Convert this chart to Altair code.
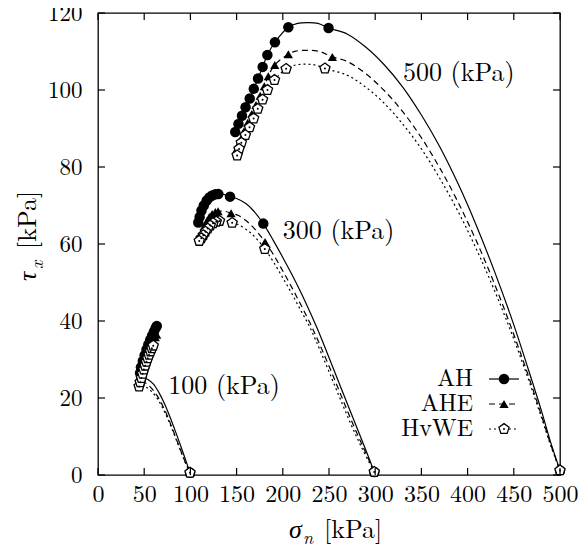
import altair as alt
import pandas as pd

FONT = "Latin Modern Roman"
W, H = 462, 462

# ---------------- data ----------------
x_ticks = [0, 50, 100, 150, 200, 250, 300, 350, 400, 450, 500]
y_ticks = [0, 20, 40, 60, 80, 100, 120]

# 500 kPa
AH500_x = [500, 490, 480, 465, 450, 430, 410, 390, 370, 350, 330, 310, 290, 270, 249.5, 238, 227, 216, 206,
           191.5, 183.3, 178.2, 173.2, 168.6, 164.2, 159.7, 155.8, 152, 148.5]
AH500_y = [1.2, 8.4, 16.6, 28, 39, 52.3, 64.5, 75.5, 85.2, 93.5, 100.7, 106.5, 111.1, 114.5, 116.1, 117.3, 117.5, 117.3, 116.3,
           112.4, 109.1, 106.0, 103.0, 100.3, 97.8, 95.5, 93.3, 91.2, 89.1]
AH500_mx = [500, 249.5, 206, 191.5, 183.3, 178.2, 173.2, 168.6, 164.2, 159.7, 155.8, 152, 148.5]
AH500_my = [1.2, 116.1, 116.3, 112.4, 109.1, 106.0, 103.0, 100.3, 97.8, 95.5, 93.3, 91.2, 89.1]

AHE500_x = [500, 490, 480, 465, 450, 430, 410, 390, 370, 350, 330, 310, 290, 270, 253.6, 240, 226, 214, 206,
            191.3, 184.3, 180, 175.5, 171, 166.5, 162, 158, 154.5, 152, 150.1]
AHE500_y = [1.2, 7.9, 15.4, 26.3, 36.5, 49.1, 60.5, 70.7, 79.7, 87.6, 94.3, 99.8, 104.2, 107.4, 108.6, 110, 110.3, 110.1, 109.3,
            106.5, 103.6, 101, 98.5, 96.1, 93.8, 91.5, 89.3, 87.2, 85.8, 84.6]
AHE500_mx = [500, 253.6, 206, 191.3, 184.3, 180, 175.5, 171, 166.5, 162, 158, 154.5, 152, 150.1]
AHE500_my = [1.2, 108.6, 109.3, 106.5, 103.6, 101, 98.5, 96.1, 93.8, 91.5, 89.3, 87.2, 85.8, 84.6]

HvWE500_x = [500, 490, 480, 465, 450, 430, 410, 390, 370, 350, 330, 310, 290, 270, 245.6, 235, 225, 214, 203.6,
             191, 183.4, 178.1, 172.9, 168.4, 164, 159.5, 155.1, 152.7, 150.6]
HvWE500_y = [1.2, 7.6, 14.9, 25.4, 35.3, 47.4, 58.4, 68.3, 77, 84.7, 91.1, 96.5, 100.7, 103.8, 105.6, 106.5, 106.7, 106.5, 105.5,
             102.6, 100, 97.5, 95.1, 92.6, 90.3, 88.3, 86.3, 84.7, 83]
HvWE500_mx = [500, 245.6, 203.6, 191, 183.4, 178.1, 172.9, 168.4, 164, 159.5, 155.1, 152.7, 150.6]
HvWE500_my = [1.2, 105.6, 105.5, 102.6, 100, 97.5, 95.1, 92.6, 90.3, 88.3, 86.3, 84.7, 83]

# 300 kPa
AH300_x = [299, 288, 276, 264, 252, 240, 230, 220, 210, 200, 190, 178.9, 168, 160, 150, 142.9, 136, 130.2,
           127, 123.5, 120.5, 117.6, 114.5, 112, 110, 108.5]
AH300_y = [0.8, 7.6, 14.8, 22, 29.3, 36.5, 42, 47.2, 52, 56.5, 60.8, 65.3, 68.7, 70.5, 71.8, 72.3, 72.9, 73,
           72.9, 72.6, 72.1, 71.3, 70, 68.7, 67, 65.6]
AH300_mx = [299, 178.9, 142.9, 130.2, 127, 123.5, 120.5, 117.6, 114.5, 112, 110, 108.5]
AH300_my = [0.8, 65.3, 72.3, 73, 72.9, 72.6, 72.1, 71.3, 70, 68.7, 67, 65.6]

AHE300_x = [299, 287, 274, 262, 250, 238, 230, 220, 210, 200, 190, 180.8, 170, 162, 152, 144, 137, 130,
            127, 123.5, 120.5, 118, 115.5, 113.5, 112, 110.4]
AHE300_y = [0.8, 7.2, 14.3, 21.3, 28.3, 35, 39.2, 44, 48.6, 53, 57.2, 60.5, 63.8, 65.7, 67.4, 68, 68.5, 68.5,
            68.3, 67.8, 67, 66, 64.8, 63.6, 62.5, 61.3]
AHE300_mx = [299, 180.8, 144, 130, 127, 123.5, 120.5, 118, 115.5, 113.5, 112, 110.4]
AHE300_my = [0.8, 60.5, 68, 68.5, 68.3, 67.8, 67, 66, 64.8, 63.6, 62.5, 61.3]

HvWE300_x = [299, 286, 273, 260, 248, 236, 228, 220, 210, 200, 190, 180.5, 170, 163, 152, 145.2, 138, 131.5,
             128, 124.5, 121.5, 118.8, 116.3, 114, 111.8, 109.6]
HvWE300_y = [0.8, 6.8, 13.6, 21, 28, 34.8, 39, 42.5, 47, 51.2, 55.3, 58.7, 61.8, 63.3, 65, 65.5, 65.9, 66,
             65.8, 65.4, 64.8, 64, 63.2, 62.3, 61.5, 60.8]
HvWE300_mx = [299, 180.5, 145.2, 131.5, 128, 124.5, 121.5, 118.8, 116.3, 114, 111.8, 109.6]
HvWE300_my = [0.8, 58.7, 65.5, 66, 65.8, 65.4, 64.8, 64, 63.2, 62.3, 61.5, 60.8]

# 100 kPa
AH100_x = [99.6, 95, 90, 84, 78, 72, 66, 60, 54, 48, 45.5, 46.5, 48.5, 50.5, 52.5, 54.5, 56.5, 58.5, 60.5, 62.3, 63.6]
AH100_y = [0.6, 3.8, 7.2, 11.2, 15, 18.5, 21.4, 23.6, 24.8, 25.4, 26.5, 28, 29.6, 31.1, 32.6, 33.9, 35.1, 36.2, 37.2, 38.1, 38.7]
AH100_mx = [99.6, 45.5, 46.5, 48.5, 50.5, 52.5, 54.5, 56.5, 58.5, 60.5, 62.3, 63.6]
AH100_my = [0.6, 26.5, 28, 29.6, 31.1, 32.6, 33.9, 35.1, 36.2, 37.2, 38.1, 38.7]

AHE100_x = [99.6, 94, 88, 82, 76, 70, 64, 58, 52, 47, 44.5, 46, 48, 50, 52, 54, 56, 58, 60, 62, 63.5]
AHE100_y = [0.6, 3.6, 7.3, 11.1, 14.8, 18, 20.6, 22.5, 23.8, 24.5, 25.3, 26.5, 27.8, 29.1, 30.4, 31.6, 32.8, 33.9, 34.9, 35.8, 36.4]
AHE100_mx = [99.6, 44.5, 46, 48, 50, 52, 54, 56, 58, 60, 62, 63.5]
AHE100_my = [0.6, 25.3, 26.5, 27.8, 29.1, 30.4, 31.6, 32.8, 33.9, 34.9, 35.8, 36.4]

HvWE100_x = [99.6, 94, 88, 82, 76, 70, 64, 58, 52, 46.5, 44.5, 45.7, 47, 48.3, 49.6, 51, 52.4, 53.8, 55.3, 56.8, 58.3, 59.8]
HvWE100_y = [0.6, 3.5, 7.1, 10.8, 14.3, 17.4, 19.9, 21.7, 22.8, 23.3, 23, 24.1, 25.2, 26.3, 27.4, 28.4, 29.4, 30.3, 31.2, 32.1, 32.9, 33.6]
HvWE100_mx = [99.6, 44.5, 45.7, 47, 48.3, 49.6, 51, 52.4, 53.8, 55.3, 56.8, 58.3, 59.8]
HvWE100_my = [0.6, 23, 24.1, 25.2, 26.3, 27.4, 28.4, 29.4, 30.3, 31.2, 32.1, 32.9, 33.6]

ann_text = ["500 (kPa)", "300 (kPa)", "100 (kPa)"]
ann_x = [330, 200, 76]
ann_y = [104.5, 63.5, 23.2]

legend_labels = ["AH", "AHE", "HvWE"]

# ---------------- build tables ----------------
def path_df(group, xs, ys):
    return pd.DataFrame({"group": group, "i": list(range(len(xs))), "x": xs, "y": ys})

def mark_df(xs, ys):
    return pd.DataFrame({"x": xs, "y": ys})

lines_AH = pd.concat([path_df("500", AH500_x, AH500_y), path_df("300", AH300_x, AH300_y), path_df("100", AH100_x, AH100_y)])
lines_AHE = pd.concat([path_df("500", AHE500_x, AHE500_y), path_df("300", AHE300_x, AHE300_y), path_df("100", AHE100_x, AHE100_y)])
lines_HvWE = pd.concat([path_df("500", HvWE500_x, HvWE500_y), path_df("300", HvWE300_x, HvWE300_y), path_df("100", HvWE100_x, HvWE100_y)])

marks_AH = pd.concat([mark_df(AH500_mx, AH500_my), mark_df(AH300_mx, AH300_my), mark_df(AH100_mx, AH100_my)])
marks_AHE = pd.concat([mark_df(AHE500_mx, AHE500_my), mark_df(AHE300_mx, AHE300_my), mark_df(AHE100_mx, AHE100_my)])
marks_HvWE = pd.concat([mark_df(HvWE500_mx, HvWE500_my), mark_df(HvWE300_mx, HvWE300_my), mark_df(HvWE100_mx, HvWE100_my)])

PENTAGON = "M0,-1L0.951,-0.309L0.588,0.809L-0.588,0.809L-0.951,-0.309Z"

xscale = alt.Scale(domain=[0, 500], nice=False, zero=False)
yscale = alt.Scale(domain=[0, 120], nice=False, zero=False)
xaxis = alt.Axis(values=x_ticks, title=None, ticks=False, domain=False, grid=False,
                 labelFont=FONT, labelFontSize=24, labelPadding=7, labelColor="black",
                 labelFlush=False, labelOverlap=False, labelBound=False)
yaxis = alt.Axis(values=y_ticks, title=None, ticks=False, domain=False, grid=False,
                 labelFont=FONT, labelFontSize=23, labelPadding=16, labelColor="black",
                 labelFlush=False, labelOverlap=False, labelBound=False)
X = alt.X("x:Q", scale=xscale, axis=xaxis)
Y = alt.Y("y:Q", scale=yscale, axis=yaxis)

def line_layer(df, dash):
    kw = {"strokeDash": dash} if dash else {}
    return alt.Chart(df).mark_line(color="black", strokeWidth=1.2, interpolate="catmull-rom", **kw).encode(
        x=X, y=Y, detail="group:N", order="i:Q")

layers = [
    line_layer(lines_AH, None),
    line_layer(lines_AHE, [6, 4]),
    line_layer(lines_HvWE, [2, 3]),
    alt.Chart(marks_AH).mark_point(shape="circle", filled=True, color="black", size=110, opacity=1).encode(x=X, y=Y),
    alt.Chart(marks_AHE).mark_point(shape="triangle-up", filled=True, color="black", size=85, opacity=1).encode(x=X, y=Y),
    alt.Chart(marks_HvWE).mark_point(shape=PENTAGON, filled=True, fill="white", stroke="black", strokeWidth=1.3,
                                     size=115, opacity=1).encode(x=X, y=Y),
    alt.Chart(marks_HvWE).mark_point(shape="circle", filled=True, color="black", size=4, opacity=1).encode(x=X, y=Y),
]

# inside ticks on all four sides
xt = pd.DataFrame({"x": x_ticks})
yt = pd.DataFrame({"y": y_ticks})
layers += [
    alt.Chart(xt).mark_rule(color="black", strokeWidth=1.2).encode(x=X, y=alt.value(H), y2=alt.value(H - 7)),
    alt.Chart(xt).mark_rule(color="black", strokeWidth=1.2).encode(x=X, y=alt.value(0), y2=alt.value(7)),
    alt.Chart(yt).mark_rule(color="black", strokeWidth=1.2).encode(y=Y, x=alt.value(0), x2=alt.value(7)),
    alt.Chart(yt).mark_rule(color="black", strokeWidth=1.2).encode(y=Y, x=alt.value(W), x2=alt.value(W - 7)),
]

# annotations
ann = pd.DataFrame({"x": ann_x, "y": ann_y, "t": ann_text})
layers.append(alt.Chart(ann).mark_text(font=FONT, fontSize=26, align="left", baseline="middle", color="black").encode(
    x=X, y=Y, text="t:N"))

one = pd.DataFrame({"a": [0]})

def txt(s, x, y, size, italic=False, angle=0, align="left", baseline="alphabetic"):
    kw = {}
    if angle:
        kw["angle"] = angle
    if italic:
        kw["fontStyle"] = "italic"
    return alt.Chart(one).mark_text(text=s, font=FONT, fontSize=size, align=align,
                                    baseline=baseline, color="black", **kw).encode(x=alt.value(x), y=alt.value(y))

# axis titles
layers += [
    txt("σ", 191, 525, 26, True),
    txt("n", 205, 531, 18, True),
    txt("[kPa]", 226, 525, 26),
    txt("τ", -62, 268, 26, True, angle=270),
    txt("x", -55, 256, 18, True, angle=270),
    txt("[kPa]", -62, 236, 26, angle=270),
]

# legend
rows = [366, 391, 416]
for lab, ry in zip(legend_labels, rows):
    layers.append(txt(lab, 375, ry, 24, align="right", baseline="middle"))
dashes = [None, [6, 4], [2, 3]]
for d, ry in zip(dashes, rows):
    kw = {"strokeDash": d} if d else {}
    layers.append(alt.Chart(one).mark_rule(color="black", strokeWidth=1.2, **kw).encode(
        x=alt.value(391), x2=alt.value(421), y=alt.value(ry)))
layers += [
    alt.Chart(one).mark_point(shape="circle", filled=True, color="black", size=110, opacity=1).encode(
        x=alt.value(406), y=alt.value(rows[0])),
    alt.Chart(one).mark_point(shape="triangle-up", filled=True, color="black", size=85, opacity=1).encode(
        x=alt.value(406), y=alt.value(rows[1])),
    alt.Chart(one).mark_point(shape=PENTAGON, filled=True, fill="white", stroke="black", strokeWidth=1.3,
                              size=115, opacity=1).encode(x=alt.value(406), y=alt.value(rows[2])),
    alt.Chart(one).mark_point(shape="circle", filled=True, color="black", size=4, opacity=1).encode(
        x=alt.value(406), y=alt.value(rows[2])),
]

chart = alt.layer(*layers).properties(
    width=W, height=H,
    autosize=alt.AutoSizeParams(type="none"),
    padding={"left": 90, "top": 5, "right": 19, "bottom": 74},
).configure_view(stroke="black", strokeWidth=1.3)

chart.save("out.html", embed_options={"renderer": "svg", "actions": False})
